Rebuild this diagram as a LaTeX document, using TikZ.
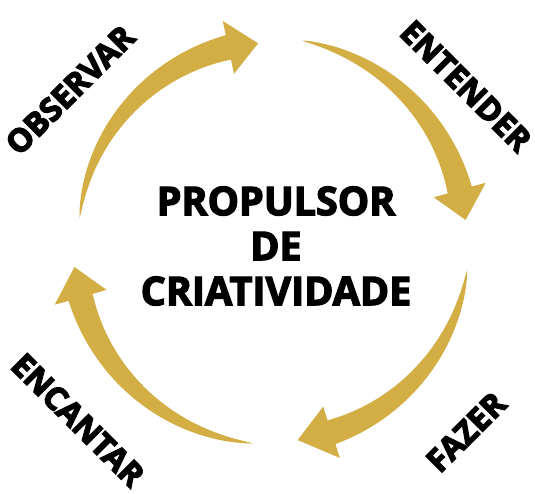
\documentclass[tikz,border=0pt]{standalone}
\usepackage{fontspec}
\setmainfont{Open Sans}
\newcommand{\hv}[1]{\special{pdf:code 2 Tr 1.3 w}#1\special{pdf:code 0 Tr}}
\definecolor{gold}{HTML}{D3AE45}
\newcommand{\goldarrow}[5]{%
 \fill[gold] plot[domain=0.001:1,samples=60,smooth] ({#1+(#2-#1)*\x}:{#4+(#5-#4)*\x+12.5*(\x)^0.75})
   -- ({#2}:{#5+27}) -- ({#3}:{#5}) -- ({#2}:{#5-27})
   -- plot[domain=1:0.001,samples=60,smooth] ({#1+(#2-#1)*\x}:{#4+(#5-#4)*\x-12.5*(\x)^0.75}) -- cycle;}
\begin{document}
\begin{tikzpicture}[x=1pt,y=1pt,
  lab/.style={font=\bfseries\fontsize{32}{34}\selectfont,inner sep=0pt},
  ctr/.style={font=\bfseries\fontsize{39.5}{45}\selectfont,align=center,inner sep=0pt}]
\useasboundingbox (-270,-250) rectangle (265,243);
\goldarrow{172.5}{102}{93.4}{192}{200}
\goldarrow{81}{15.6}{6.7}{205}{197}
\goldarrow{-7.8}{-72}{-82}{199}{199}
\goldarrow{-94.9}{-164}{-173}{201}{197}
\node[ctr] (center) at (6,-3) {\hv{PROPULSOR}\\\hv{DE}\\\hv{CRIATIVIDADE}};
\node[lab,rotate=45] (observar) at (-200,153) {\hv{OBSERVAR}};
\node[lab,rotate=-45] (entender) at (196,157) {\hv{ENTENDER}};
\node[lab,rotate=45] (fazer) at (196,-189) {\hv{FAZER}};
\node[lab,rotate=-45] (encantar) at (-192,-177) {\hv{ENCANTAR}};
\end{tikzpicture}
\end{document}
